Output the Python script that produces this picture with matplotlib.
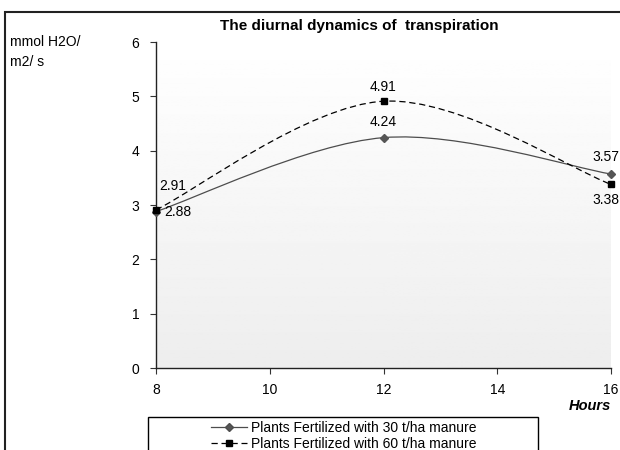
import numpy as np
import matplotlib
matplotlib.use('Agg')
import matplotlib.pyplot as plt
from matplotlib.path import Path
from matplotlib.patches import PathPatch, Rectangle
from matplotlib.lines import Line2D

plt.rcParams['font.family'] = ['Liberation Sans', 'DejaVu Sans']
fs = 10

hours = [8, 12, 16]
manure_30 = [2.88, 4.24, 3.57]
manure_60 = [2.91, 4.91, 3.38]
labels = ['Plants Fertilized with 30 t/ha manure', 'Plants Fertilized with 60 t/ha manure']
x_ticks = [8, 10, 12, 14, 16]
y_ticks = [0, 1, 2, 3, 4, 5, 6]


def smooth_path(xs, ys):
    # Excel-like smoothed line: cubic bezier through the points
    pts = np.column_stack([xs, ys]).astype(float)
    n = len(pts)
    verts = [pts[0]]
    codes = [Path.MOVETO]
    for i in range(n - 1):
        p_prev = pts[max(i - 1, 0)]
        p0 = pts[i]
        p1 = pts[i + 1]
        p_next = pts[min(i + 2, n - 1)]
        c1 = p0 + (p1 - p_prev) / 6.0
        c2 = p1 - (p_next - p0) / 6.0
        verts += [c1, c2, p1]
        codes += [Path.CURVE4] * 3
    return Path(verts, codes)


fig = plt.figure(figsize=(6.2, 4.5), dpi=100)
ax = fig.add_axes([156 / 620, 1 - 368 / 450, 455 / 620, 326 / 450])

# outer chart frame
fig.patches.append(Rectangle((5 / 620, -0.2), 1.2, 1 - 12 / 450 + 0.2, transform=fig.transFigure,
                             fill=False, edgecolor='#222222', linewidth=1.5))

# gradient plot background
grad = np.linspace(1.0, 0.93, 256).reshape(-1, 1)
ax.imshow(grad, cmap='gray', vmin=0, vmax=1, extent=[0, 1, 0, 1], transform=ax.transAxes,
          aspect='auto', zorder=0)

ax.add_patch(PathPatch(smooth_path(hours, manure_30), fill=False, edgecolor='#4d4d4d', linewidth=0.9, zorder=2))
ax.add_patch(PathPatch(smooth_path(hours, manure_60), fill=False, edgecolor='black', linewidth=0.9,
                       linestyle=(0, (5, 3)), zorder=2))
ax.plot(hours, manure_30, linestyle='none', marker='D', markersize=4.5, color='#555555', zorder=3, clip_on=False)
ax.plot(hours, manure_60, linestyle='none', marker='s', markersize=5, color='black', zorder=3, clip_on=False)

# data labels (offsets in points)
label_offsets_30 = [(16, 0), (0, 11.3), (-4, 12.3)]
label_offsets_60 = [(12, 17), (0, 10.5), (-4, -11.5)]
for xv, yv, off in zip(hours, manure_30, label_offsets_30):
    ax.annotate(f'{yv:.2f}', (xv, yv), xytext=off, textcoords='offset points',
                ha='center', va='center', fontsize=fs)
for xv, yv, off in zip(hours, manure_60, label_offsets_60):
    ax.annotate(f'{yv:.2f}', (xv, yv), xytext=off, textcoords='offset points',
                ha='center', va='center', fontsize=fs)

ax.set_xlim(8, 16)
ax.set_ylim(0, 6)
ax.set_xticks(x_ticks)
ax.set_yticks(y_ticks)
ax.tick_params(axis='both', direction='out', length=4, width=0.8, labelsize=fs, color='#333333')
ax.tick_params(axis='x', pad=7)
ax.tick_params(axis='y', pad=8)
for side in ['top', 'right']:
    ax.spines[side].set_visible(False)
for side in ['left', 'bottom']:
    ax.spines[side].set_color('#222222')
    ax.spines[side].set_linewidth(1.0)

fig.text(359.5 / 620, 1 - 26 / 450, 'The diurnal dynamics of  transpiration', ha='center', va='center',
         fontsize=11, fontweight='bold')
fig.text(10 / 620, 1 - 52 / 450, 'mmol H2O/\nm2/ s', ha='left', va='center', fontsize=fs, linespacing=1.55)
fig.text(611 / 620, 1 - 406 / 450, 'Hours', ha='right', va='center', fontsize=10.5,
         fontweight='bold', fontstyle='italic')

# legend box (cut by the lower edge like the reference)
fig.patches.append(Rectangle((148 / 620, -0.1), 390 / 620, 0.1 + 1 - 417 / 450, transform=fig.transFigure,
                             fill=False, edgecolor='black', linewidth=1.0))
handles = [Line2D([], [], color='#4d4d4d', linewidth=0.9, marker='D', markersize=4, markerfacecolor='#555555'),
           Line2D([], [], color='black', linewidth=0.9, linestyle=(0, (5, 3)), marker='s', markersize=4.5)]
fig.legend(handles, labels, loc='upper left', bbox_to_anchor=(211 / 620, 1 - 421 / 450),
           frameon=False, fontsize=fs, handlelength=2.6, handletextpad=0.3,
           borderpad=0, labelspacing=0.15, borderaxespad=0)

fig.savefig('out.png', dpi=100)
